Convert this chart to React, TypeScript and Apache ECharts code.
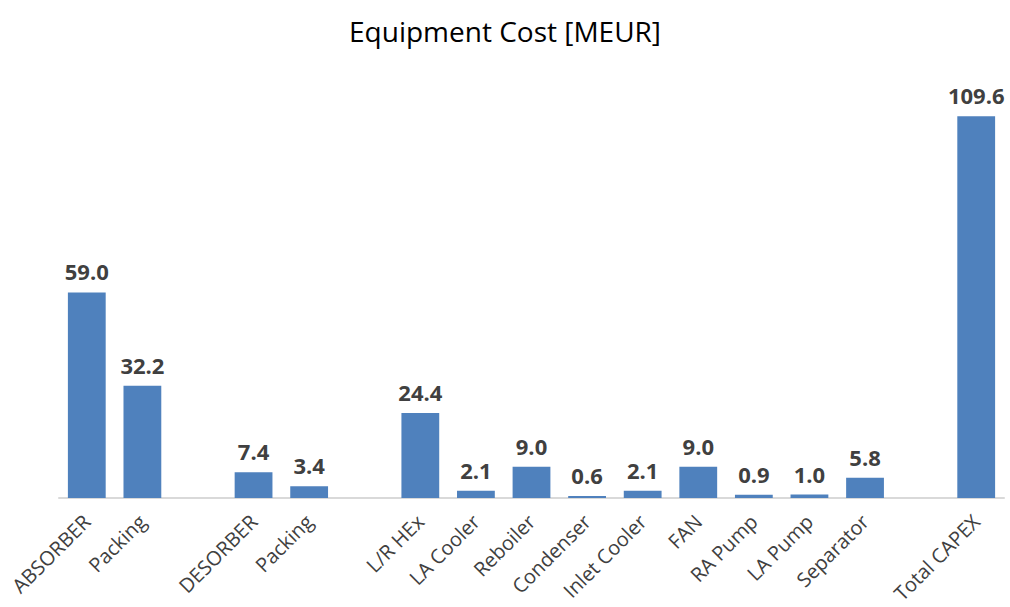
import React, { useEffect, useRef } from "react";
import * as echarts from "echarts";

// Equipment items (empty strings are spacer slots between groups)
const categories: string[] = [
  "ABSORBER",
  "Packing",
  "",
  "DESORBER",
  "Packing",
  "",
  "L/R HEx",
  "LA Cooler",
  "Reboiler",
  "Condenser",
  "Inlet Cooler",
  "FAN",
  "RA Pump",
  "LA Pump",
  "Separator",
  "",
  "Total CAPEX",
];

// Cost in MEUR; null marks a spacer slot
const costs: (number | null)[] = [
  59.0, 32.2, null, 7.4, 3.4, null, 24.4, 2.1, 9.0, 0.6, 2.1, 9.0, 0.9, 1.0, 5.8, null, 109.6,
];

const titleText = "Equipment Cost [MEUR]";
const FONT = "'Open Sans', 'Noto Sans', sans-serif";

export default function App() {
  const ref = useRef<HTMLDivElement>(null);

  useEffect(() => {
    if (!ref.current) return;
    const chart = echarts.init(ref.current, null, { renderer: "svg" });
    chart.setOption({
      animation: false,
      backgroundColor: "#ffffff",
      title: {
        text: titleText,
        left: "center",
        top: 12,
        textStyle: {
          fontFamily: FONT,
          fontSize: 28,
          fontWeight: "normal",
          color: "#000000",
        },
      },
      grid: {
        left: 59,
        right: 6,
        top: 80,
        bottom: 109,
        containLabel: false,
      },
      xAxis: {
        type: "category",
        data: categories,
        axisLine: { show: true, lineStyle: { color: "#d9d9d9", width: 2 } },
        axisTick: { show: false },
        axisLabel: {
          interval: 0,
          rotate: 45,
          margin: 20,
          fontFamily: FONT,
          fontSize: 20,
          color: "#404040",
        },
      },
      yAxis: {
        type: "value",
        min: 0,
        max: 120,
        show: false,
        splitLine: { show: false },
      },
      series: [
        {
          type: "bar",
          data: costs,
          barWidth: "68%",
          itemStyle: { color: "#4f81bd" },
          label: {
            show: true,
            position: "top",
            distance: 10,
            fontFamily: FONT,
            fontSize: 22,
            fontWeight: "bold",
            color: "#404040",
            formatter: (p: any) => (p.value == null ? "" : Number(p.value).toFixed(1)),
          },
        },
      ],
    });
    return () => chart.dispose();
  }, []);

  return (
    <div
      ref={ref}
      style={{ position: "absolute", left: 0, top: 0, width: 1010, height: 607 }}
    />
  );
}
